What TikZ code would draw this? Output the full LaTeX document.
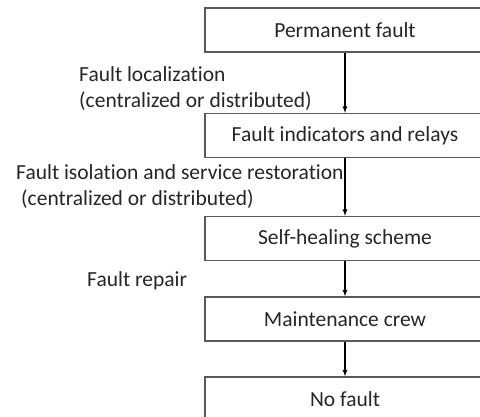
\documentclass[tikz,border=0pt]{standalone}
\usepackage{fontspec}
\setmainfont{Carlito}[Ligatures=NoCommon]
\usetikzlibrary{positioning,arrows}

\begin{document}
\begin{tikzpicture}[x=1pt,y=-1pt,font=\fontsize{21.5}{26}\selectfont,text=black!85]
 \tikzset{stage/.style={draw=black!65,line width=1.3pt,minimum width=280pt,minimum height=44pt,inner sep=0pt}}
 \tikzset{arrow/.style={line width=1.2pt,-latex}}
 \tikzset{note/.style={anchor=west,align=left,inner sep=0pt}}
 \useasboundingbox (0,0) rectangle (480,416);
 \clip (0,0) rectangle (480,416);

 \node[stage] (P) at (345,30) {Permanent fault};
 \node[stage] (I) at (345,135.5) {Fault indicators and relays};
 \node[stage] (S) at (345,238.5) {Self-healing scheme};
 \node[stage] (M) at (345,319) {Maintenance crew};
 \node[stage] (N) at (345,399) {No fault};

 \draw[arrow] (P) -- (I);
 \draw[arrow] (I) -- (S);
 \draw[arrow] (S) -- (M);
 \draw[arrow] (M) -- (N);

 \node[note] (loc) at (79,88.5) {Fault localization\\(centralized or distributed)};
 \node[note] (iso) at (16,187) {Fault isolation and service restoration\\\hspace*{5pt}(centralized or distributed)};
 \node[note] (rep) at (87,281) {Fault repair};
\end{tikzpicture}
\end{document}
